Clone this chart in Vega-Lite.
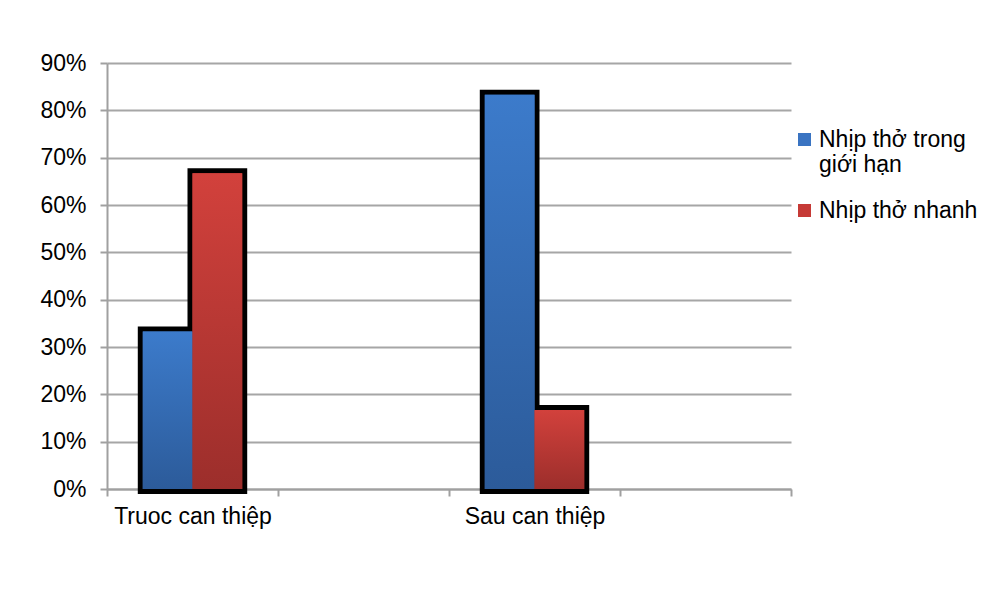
{
  "$schema": "https://vega.github.io/schema/vega-lite/v6.json",
  "autosize": {"type": "none"},
  "width": 684,
  "height": 426,
  "padding": {"left": 107, "top": 63, "right": 214, "bottom": 102},
  "background": "white",
  "config": {
    "font": "Liberation Sans",
    "view": {"stroke": null},
    "axis": {"labelFont": "Liberation Sans", "labelFontSize": 23, "labelColor": "#000000"}
  },
  "data": {
    "values": [
      {"cat": "Truoc can thiệp", "series": "Nhịp thở trong giới hạn", "value": 0.333},
      {"cat": "Truoc can thiệp", "series": "Nhịp thở nhanh", "value": 0.667},
      {"cat": "Sau can thiệp", "series": "Nhịp thở trong giới hạn", "value": 0.833},
      {"cat": "Sau can thiệp", "series": "Nhịp thở nhanh", "value": 0.167}
    ]
  },
  "encoding": {
    "x": {
      "field": "cat",
      "type": "nominal",
      "sort": null,
      "scale": {"domain": ["Truoc can thiệp", "_b1", "Sau can thiệp", "_b2"], "paddingInner": 0, "paddingOuter": 0},
      "axis": {
        "title": null,
        "labelAngle": 0,
        "labelExpr": "indexof(datum.label, '_b') == 0 ? '' : datum.label",
        "tickBand": "extent",
        "domainColor": "#A0A0A0",
        "domainWidth": 2,
        "tickColor": "#A0A0A0",
        "tickWidth": 2,
        "tickSize": 7,
        "labelPadding": 9,
        "grid": false
      }
    },
    "xOffset": {
      "field": "series",
      "type": "nominal",
      "scale": {"domain": ["Nhịp thở trong giới hạn", "Nhịp thở nhanh"], "paddingInner": 0, "paddingOuter": 0.72}
    },
    "y": {
      "field": "value",
      "type": "quantitative",
      "scale": {"domain": [0, 0.9], "nice": false},
      "axis": {
        "title": null,
        "format": ".0%",
        "values": [0, 0.1, 0.2, 0.3, 0.4, 0.5, 0.6, 0.7, 0.8, 0.9],
        "domainColor": "#A0A0A0",
        "domainWidth": 2,
        "tickColor": "#A0A0A0",
        "tickWidth": 2,
        "tickSize": 7,
        "labelPadding": 14,
        "gridColor": "#A6A6A6",
        "gridWidth": 2
      }
    }
  },
  "layer": [
    {
      "mark": {"type": "bar", "color": "#000000", "stroke": "#000000", "strokeWidth": 10, "strokeJoin": "miter"}
    },
    {
      "mark": {"type": "bar"},
      "encoding": {
        "color": {
          "field": "series",
          "type": "nominal",
          "scale": {"domain": ["Nhịp thở trong giới hạn", "Nhịp thở nhanh"], "range": ["#3A74C2", "#C63A36"]},
          "legend": {
            "title": null,
            "orient": "none",
            "legendX": 686,
            "legendY": 65,
            "padding": 0,
            "symbolType": "square",
            "symbolSize": 169,
            "symbolStrokeWidth": 0,
            "labelFont": "Liberation Sans",
            "labelFontSize": 23,
            "labelColor": "#000000",
            "labelOffset": 3,
            "labelLimit": 300,
            "labelLineHeight": 27,
            "rowPadding": 22,
            "labelExpr": "datum.label == 'Nhịp thở trong giới hạn' ? ['Nhịp thở trong', 'giới hạn'] : datum.label"
          }
        }
      }
    },
    {
      "transform": [{"filter": "datum.series == 'Nhịp thở trong giới hạn'"}],
      "mark": {
        "type": "bar",
        "color": {"gradient": "linear", "x1": 0, "y1": 0, "x2": 0, "y2": 1,
          "stops": [{"offset": 0, "color": "#3C7BCB"}, {"offset": 1, "color": "#2C5B9A"}]}
      }
    },
    {
      "transform": [{"filter": "datum.series == 'Nhịp thở nhanh'"}],
      "mark": {
        "type": "bar",
        "color": {"gradient": "linear", "x1": 0, "y1": 0, "x2": 0, "y2": 1,
          "stops": [{"offset": 0, "color": "#D2413C"}, {"offset": 1, "color": "#9C2E2B"}]}
      }
    }
  ]
}
